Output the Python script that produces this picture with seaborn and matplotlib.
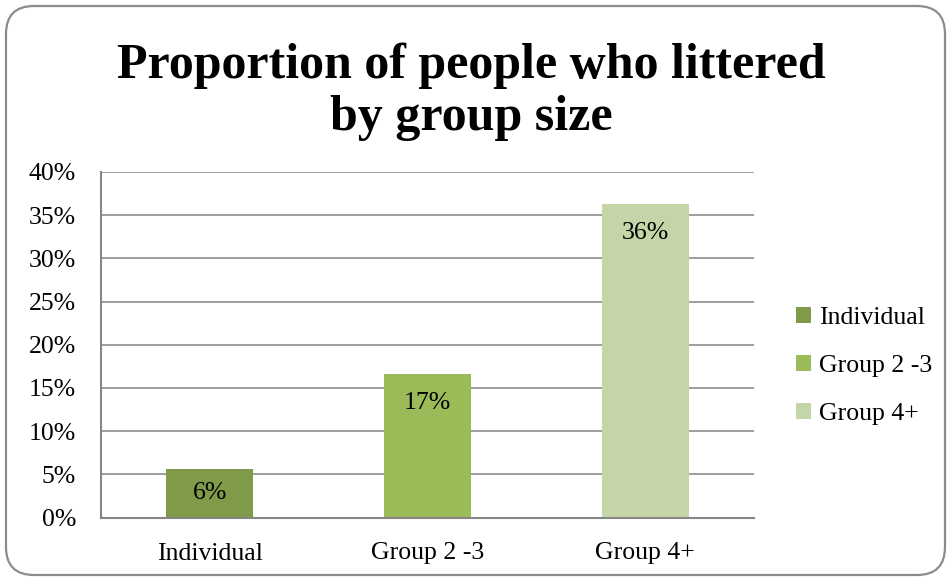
import matplotlib
matplotlib.use("Agg")
import matplotlib.pyplot as plt
from matplotlib.patches import FancyBboxPatch
from matplotlib.transforms import IdentityTransform
import seaborn as sns
import pandas as pd

# Chart data (percent of people who littered)
categories = ["Individual", "Group 2 -3", "Group 4+"]
values = [5.6, 16.6, 36.3]
colors = ["#7F9A48", "#9BBB59", "#C4D6A8"]
y_ticks = [0, 5, 10, 15, 20, 25, 30, 35, 40]
title = "Proportion of people who littered\nby group size"

sns.set_theme(style="white")
plt.rcParams["font.family"] = ["Liberation Serif", "DejaVu Serif"]
plt.rcParams["text.color"] = "black"

W, H, DPI = 951, 581, 100
FS = 18.5
fig = plt.figure(figsize=(W / DPI, H / DPI), dpi=DPI)
fig.patch.set_facecolor("white")

# plot area in pixel terms
left, right, top, bottom = 101, 754, 172, 517.5
ax = fig.add_axes([left / W, 1 - bottom / H, (right - left) / W, (bottom - top) / H])

df = pd.DataFrame({"group": categories, "pct": values})
sns.barplot(data=df, x="group", y="pct", hue="group", palette=colors,
            width=0.4, saturation=1, legend=True, ax=ax, linewidth=0)

ax.set_ylim(0, 40)
ax.set_xlim(-0.5, len(categories) - 0.5)
ax.set_yticks(y_ticks)
ax.set_yticklabels([f"{t}%" for t in y_ticks])
ax.set_xlabel("")
ax.set_ylabel("")
ax.tick_params(axis="both", length=0, labelsize=FS, colors="black")
ax.tick_params(axis="y", pad=18)
ax.tick_params(axis="x", pad=18)
ax.yaxis.grid(True, color="#8C8C8C", linewidth=1.2)
ax.set_axisbelow(True)
for side in ["top", "right"]:
    ax.spines[side].set_visible(False)
for side in ["left", "bottom"]:
    ax.spines[side].set_color("#868686")
    ax.spines[side].set_linewidth(1.5)

# value labels just inside the top of each bar
for i, v in enumerate(values):
    bar_px = ax.transData.transform((0, v))[1] - ax.transData.transform((0, 0))[1]
    off_px = min(29, bar_px / 2)
    ax.annotate(f"{v:.0f}%", xy=(i, v), xytext=(0, -off_px * 72 / DPI),
                textcoords="offset points", ha="center", va="center",
                fontsize=FS, color="black")

# legend to the right of the plot
handles, labels = ax.get_legend_handles_labels()
leg = ax.legend(handles, labels, loc="center left",
                bbox_to_anchor=(796 / W, 1 - 366 / H), bbox_transform=fig.transFigure,
                frameon=False, fontsize=FS, handlelength=0.6, handleheight=0.6,
                handletextpad=0.3, labelspacing=1.0, borderpad=0, borderaxespad=0)
for t in leg.get_texts():
    t.set_color("black")

fig.text(471 / W, 1 - 92 / H, title, ha="center", va="center",
         fontsize=36, fontweight="bold", linespacing=1.18, color="black")

# rounded chart border
border = FancyBboxPatch((6, 6), W - 12, H - 12,
                        boxstyle="round,pad=0,rounding_size=28",
                        transform=IdentityTransform(), facecolor="none",
                        edgecolor="#8C8C8C", linewidth=1.6)
fig.add_artist(border)

fig.savefig("out.png", dpi=DPI, facecolor="white")
